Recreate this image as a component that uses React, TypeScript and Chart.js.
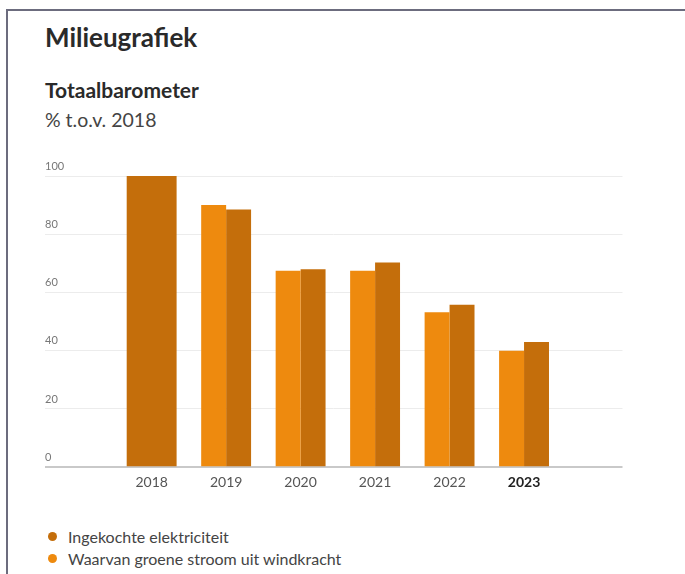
import React, { useEffect, useRef } from "react";
import { Chart, registerables } from "chart.js";

Chart.register(...registerables);

const years = [2018, 2019, 2020, 2021, 2022, 2023];
const ingekochte = [100, 88.5, 68, 70.3, 55.8, 43];
const groeneStroom = [null, 90, 67.5, 67.5, 53.2, 40];
const yTicks = [0, 20, 40, 60, 80, 100];
const legendLabels = ["Ingekochte elektriciteit", "Waarvan groene stroom uit windkracht"];
const baseYear = 2018;

const DARK = "#c46e0b";
const LIGHT = "#ee8a0e";
const FONT = "Lato, 'Noto Sans', sans-serif";

export default function App() {
  const ref = useRef<HTMLCanvasElement | null>(null);

  useEffect(() => {
    if (!ref.current) return;
    const baseIdx = years.indexOf(baseYear);
    const chart = new Chart(ref.current, {
      type: "bar",
      data: {
        datasets: [
          {
            label: legendLabels[1],
            data: years.map((y, i) => ({ x: y, y: groeneStroom[i] })),
            backgroundColor: LIGHT,
            borderWidth: 0,
            categoryPercentage: 0.67,
            barPercentage: 1,
          },
          {
            label: legendLabels[0],
            data: years.map((y, i) => ({ x: y, y: y === baseYear ? null : ingekochte[i] })),
            backgroundColor: DARK,
            borderWidth: 0,
            categoryPercentage: 0.67,
            barPercentage: 1,
          },
          {
            label: legendLabels[0] + " (basisjaar)",
            data: [{ x: baseYear, y: ingekochte[baseIdx] }],
            backgroundColor: DARK,
            borderWidth: 0,
            grouped: false,
            categoryPercentage: 0.67,
            barPercentage: 1,
          } as any,
        ],
      },
      options: {
        animation: false,
        responsive: false,
        events: [],
        layout: { padding: { left: 45, right: 62.5, top: 26, bottom: 0 } },
        plugins: { legend: { display: false }, tooltip: { enabled: false } },
        scales: {
          x: {
            type: "linear",
            offset: false,
            min: 2016.568,
            max: 2024.322,
            grid: { display: false, drawTicks: false },
            border: { display: false },
            ticks: {
              stepSize: 1,
              includeBounds: false,
              autoSkip: false,
              maxRotation: 0,
              padding: 7,
              callback: (v: any) => (years.includes(Number(v)) ? String(v) : ""),
              color: (ctx: any) => (ctx.tick && ctx.tick.value === 2023 ? "#222" : "#555"),
              font: (ctx: any) => ({
                family: FONT,
                size: 14,
                weight: ctx.tick && ctx.tick.value === 2023 ? "bold" : "normal",
              }),
            },
          },
          y: {
            min: 0,
            max: 100,
            afterBuildTicks: (scale: any) => {
              scale.ticks = yTicks.map((v) => ({ value: v }));
            },
            grid: {
              drawTicks: false,
              color: (ctx: any) => (ctx.tick && ctx.tick.value === 0 ? "#c9c9c9" : "#ececec"),
              lineWidth: (ctx: any) => (ctx.tick && ctx.tick.value === 0 ? 2 : 1),
            },
            border: { display: false },
            ticks: {
              mirror: true,
              padding: 0,
              labelOffset: -10,
              color: "#777",
              font: { family: FONT, size: 11 },
            },
          },
        },
      },
    });
    return () => chart.destroy();
  }, []);

  return (
    <div
      style={{
        position: "fixed",
        left: 0,
        top: 0,
        width: 685,
        height: 574,
        background: "#fff",
        overflow: "hidden",
        fontFamily: FONT,
      }}
    >
      <div
        style={{
          position: "absolute",
          left: 6,
          top: 9,
          right: 0,
          bottom: -5,
          borderTop: "2px solid #6c6c7e",
          borderLeft: "2px solid #6c6c7e",
        }}
      />
      <div
        style={{
          position: "absolute",
          left: 45,
          top: 24,
          fontSize: 26,
          lineHeight: "26px",
          fontWeight: 700,
          color: "#2a2a2a",
        }}
      >
        Milieugrafiek
      </div>
      <div
        style={{
          position: "absolute",
          left: 45,
          top: 79,
          fontSize: 21,
          lineHeight: "21px",
          fontWeight: 700,
          color: "#2a2a2a",
        }}
      >
        Totaalbarometer
      </div>
      <div
        style={{
          position: "absolute",
          left: 45,
          top: 110,
          fontSize: 19.5,
          lineHeight: "19.5px",
          color: "#444",
        }}
      >
        % t.o.v. 2018
      </div>
      <canvas
        ref={ref}
        width={685}
        height={348}
        style={{ position: "absolute", left: 0, top: 150, width: 685, height: 348 }}
      />
      {legendLabels.map((label, i) => (
        <div
          key={label}
          style={{
            position: "absolute",
            left: 48,
            top: 526 + i * 22,
            height: 20,
            display: "flex",
            alignItems: "center",
            fontSize: 16,
            color: "#444",
          }}
        >
          <span
            style={{
              display: "inline-block",
              width: 9,
              height: 9,
              borderRadius: "50%",
              background: i === 0 ? DARK : LIGHT,
              marginRight: 11,
            }}
          />
          {label}
        </div>
      ))}
    </div>
  );
}
